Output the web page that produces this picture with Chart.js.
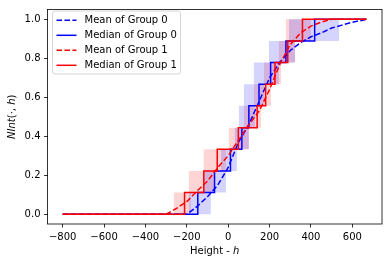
<!DOCTYPE html>
<html><head><meta charset="utf-8">
<script src="https://cdn.jsdelivr.net/npm/chart.js@4/dist/chart.umd.min.js"></script>
<style>html,body{margin:0;padding:0;background:#fff;}</style>
</head><body>
<canvas id="c" width="389" height="266"></canvas>
<script>
// ---- data ----
const levels = [0, 0.111, 0.222, 0.333, 0.444, 0.556, 0.667, 0.778, 0.889, 1.0];
const xFirst = -800, xLast = 668;
const g0MedianRise = [-147, -66, 11, 66, 100, 149, 205, 279, 418];
const g0BandEarly  = [-190, -118, -35, 32, 52, 76, 124, 197, 294];
const g0BandLate   = [-84, -11, 42, 100, 129, 173, 245, 323, 536];
const g1MedianRise = [-211, -118, -53, 49, 140, 181, 226, 288, 359];
const g1BandEarly  = [-263, -190, -118, 3, 76, 124, 173, 245, 279];
const g1BandLate   = [-181, -69, -11, 100, 158, 207, 255, 323, 400];
const g0MeanX = [-800, -200, -150, -100, -50, 0, 50, 100, 150, 200, 250, 300, 350, 400, 450, 500, 550, 600, 650, 668];
const g0MeanY = [0, 0, 0.04, 0.09, 0.15, 0.24, 0.37, 0.46, 0.58, 0.70, 0.78, 0.84, 0.88, 0.91, 0.93, 0.955, 0.97, 0.985, 0.995, 1.0];
const g1MeanX = [-800, -300, -250, -200, -150, -100, -50, 0, 50, 100, 150, 200, 250, 300, 350, 400, 450, 500, 668];
const g1MeanY = [0, 0, 0.03, 0.065, 0.12, 0.17, 0.24, 0.30, 0.38, 0.46, 0.53, 0.64, 0.77, 0.87, 0.93, 0.965, 0.985, 1.0, 1.0];
const xTicks = [-800, -600, -400, -200, 0, 200, 400, 600];
const yTicks = [0, 0.2, 0.4, 0.6, 0.8, 1.0];
const seriesLabels = ['Mean of Group 0', 'Median of Group 0', 'Mean of Group 1', 'Median of Group 1'];
const xTitle = [['Height - ', false], ['h', true]];
const yTitle = [['NInt', true], ['(\u00b7, ', false], ['h', true], [')', false]];

// ---- helpers ----
function stepPoints(rises) {
  const pts = [{x: xFirst, y: levels[0]}];
  rises.forEach((r, i) => pts.push({x: r, y: levels[i + 1]}));
  pts.push({x: xLast, y: levels[levels.length - 1]});
  return pts;
}
function zipPts(xs, ys) { return xs.map((x, i) => ({x: x, y: ys[i]})); }

const BLUE = '#0000ff', RED = '#ff0000';
const DASH = [5.55, 2.4];
const FONT = '"DejaVu Sans"';
Chart.defaults.font.family = FONT;
Chart.defaults.font.size = 10;
Chart.defaults.color = '#000';

const bandDs = (pts, fillTo, col) => ({
  data: pts, stepped: true, borderWidth: 0, borderColor: 'rgba(0,0,0,0)',
  pointRadius: 0, fill: fillTo === null ? false : {target: fillTo}, backgroundColor: col, order: 10
});

const datasets = [
  bandDs(stepPoints(g0BandEarly), 1, 'rgba(0,0,255,0.17)'),
  bandDs(stepPoints(g0BandLate), null, 'rgba(0,0,0,0)'),
  bandDs(stepPoints(g1BandEarly), 3, 'rgba(255,0,0,0.17)'),
  bandDs(stepPoints(g1BandLate), null, 'rgba(0,0,0,0)'),
  {label: seriesLabels[0], data: zipPts(g0MeanX, g0MeanY), borderColor: BLUE, borderWidth: 1.5, borderDash: DASH, pointRadius: 0, fill: false, order: 4, tension: 0},
  {label: seriesLabels[1], data: stepPoints(g0MedianRise), stepped: true, borderColor: BLUE, borderWidth: 1.5, pointRadius: 0, fill: false, order: 3},
  {label: seriesLabels[2], data: zipPts(g1MeanX, g1MeanY), borderColor: RED, borderWidth: 1.5, borderDash: DASH, pointRadius: 0, fill: false, order: 2, tension: 0},
  {label: seriesLabels[3], data: stepPoints(g1MedianRise), stepped: true, borderColor: RED, borderWidth: 1.5, pointRadius: 0, fill: false, order: 1}
];

function drawSegs(ctx, segs, cx, cy) {
  let total = 0;
  const ws = segs.map(s => { ctx.font = (s[1] ? 'italic ' : '') + '10px ' + FONT; const w = ctx.measureText(s[0]).width; total += w; return w; });
  let x = cx - total / 2;
  ctx.textAlign = 'left'; ctx.textBaseline = 'middle';
  segs.forEach((s, i) => { ctx.font = (s[1] ? 'italic ' : '') + '10px ' + FONT; ctx.fillText(s[0], x, cy); x += ws[i]; });
}

const deco = {
  id: 'deco',
  afterDraw(chart) {
    const ctx = chart.ctx, a = chart.chartArea;
    ctx.save();
    ctx.strokeStyle = '#000'; ctx.lineWidth = 0.8; ctx.setLineDash([]);
    ctx.strokeRect(a.left, a.top, a.right - a.left, a.bottom - a.top);
    ctx.fillStyle = '#000';
    drawSegs(ctx, xTitle, (a.left + a.right) / 2, 251);
    ctx.save();
    ctx.translate(12, (a.top + a.bottom) / 2);
    ctx.rotate(-Math.PI / 2);
    drawSegs(ctx, yTitle, 0, 0);
    ctx.restore();
    // legend
    const lx = 52.5, ly = 11, lw = 128, lh = 63;
    ctx.beginPath();
    ctx.roundRect(lx, ly, lw, lh, 2.5);
    ctx.fillStyle = 'rgba(255,255,255,0.8)'; ctx.fill();
    ctx.strokeStyle = '#cccccc'; ctx.lineWidth = 0.8; ctx.stroke();
    const items = datasets.filter(d => d.label);
    items.forEach((d, i) => {
      const y = 20.3 + i * 15;
      ctx.beginPath();
      ctx.strokeStyle = d.borderColor; ctx.lineWidth = 1.5;
      ctx.setLineDash(d.borderDash || []);
      ctx.moveTo(56.5, y); ctx.lineTo(76.5, y); ctx.stroke();
      ctx.setLineDash([]);
      ctx.fillStyle = '#000'; ctx.font = '10px ' + FONT;
      ctx.textAlign = 'left'; ctx.textBaseline = 'middle';
      ctx.fillText(d.label, 84.5, y);
    });
    ctx.restore();
  }
};

new Chart(document.getElementById('c'), {
  type: 'line',
  data: {datasets: datasets},
  options: {
    responsive: false, animation: false, devicePixelRatio: 1,
    layout: {padding: {left: 0, right: 7, top: 6, bottom: 0}},
    plugins: {legend: {display: false}, tooltip: {enabled: false}},
    scales: {
      x: {
        type: 'linear', min: -873.5, max: 743.5,
        afterBuildTicks: s => { s.ticks = xTicks.map(v => ({value: v})); },
        afterFit: s => { s.height = 42; },
        ticks: {padding: 3.5, maxRotation: 0, autoSkip: false, color: '#000', font: {size: 10, family: FONT},
                callback: v => String(v).replace('-', '\u2212')},
        grid: {display: true, drawOnChartArea: false, drawTicks: true, tickLength: 3.5, tickWidth: 0.8, tickColor: '#000'},
        border: {display: false}
      },
      y: {
        type: 'linear', min: -0.05, max: 1.05,
        afterBuildTicks: s => { s.ticks = yTicks.map(v => ({value: v})); },
        afterFit: s => { s.width = 47.5; },
        ticks: {padding: 3.5, autoSkip: false, color: '#000', font: {size: 10, family: FONT},
                callback: v => Number(v).toFixed(1)},
        grid: {display: true, drawOnChartArea: false, drawTicks: true, tickLength: 3.5, tickWidth: 0.8, tickColor: '#000'},
        border: {display: false}
      }
    }
  },
  plugins: [deco]
});
</script>
</body></html>
